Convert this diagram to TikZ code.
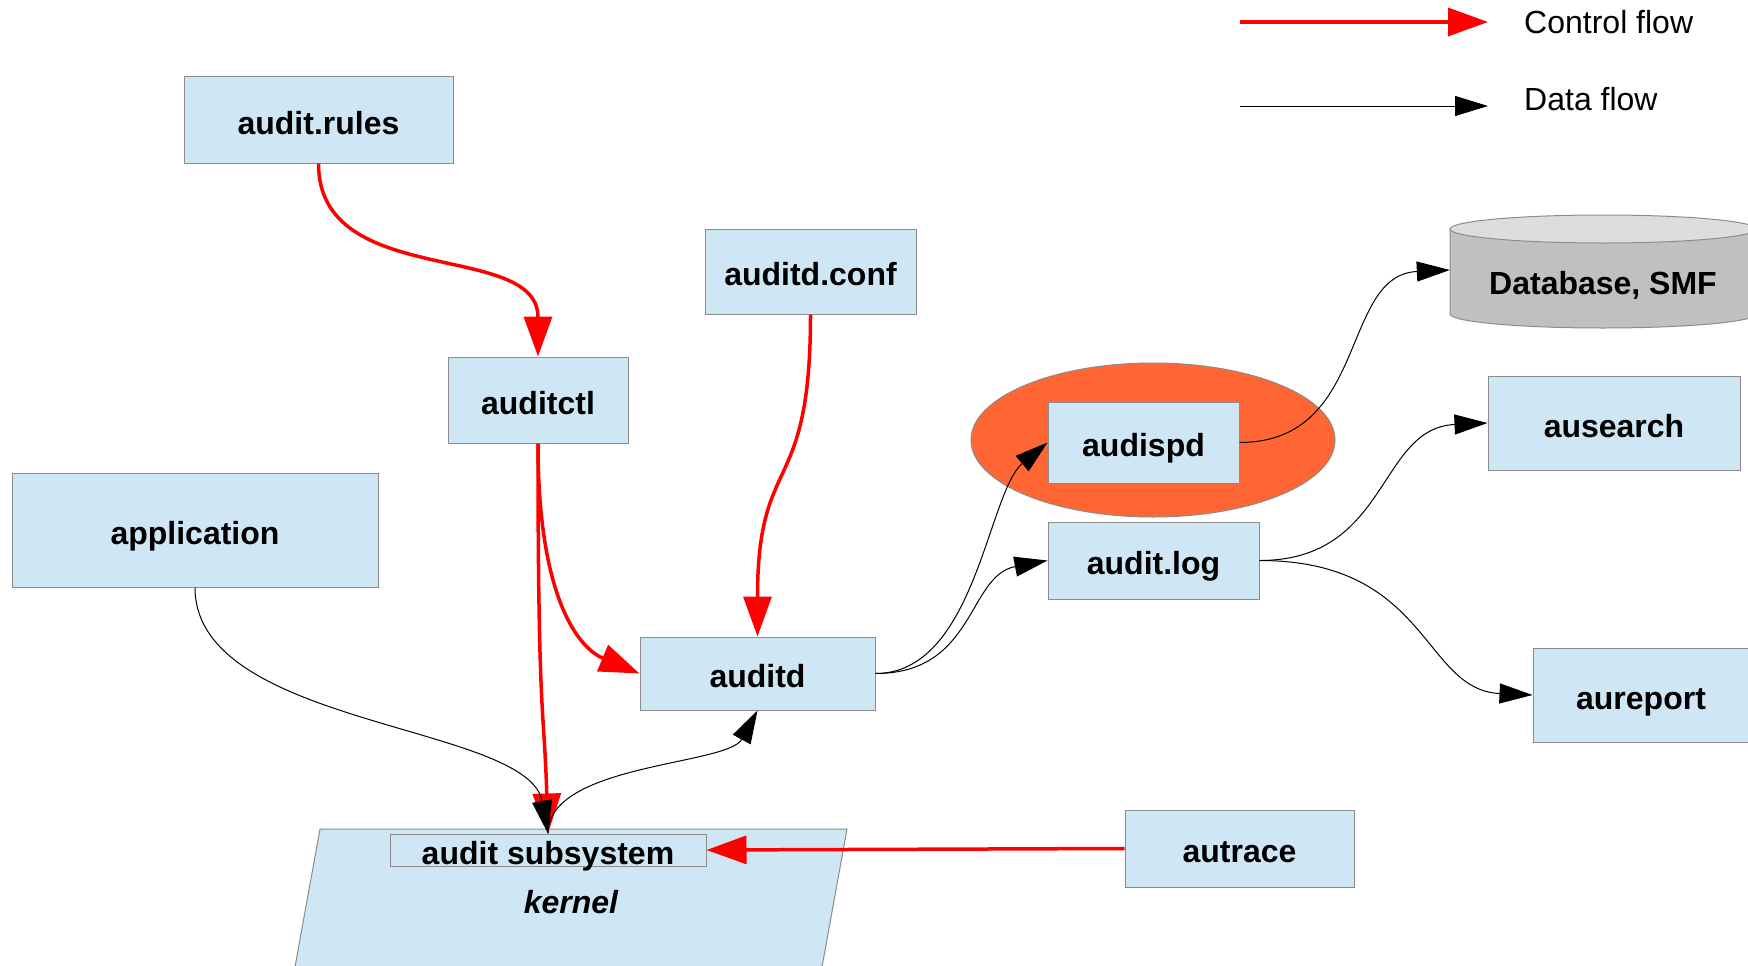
\documentclass[tikz,border=0pt]{standalone}
\usepackage{fontspec}
\setmainfont{Liberation Sans}
\usetikzlibrary{arrows.meta,shapes.geometric}
\definecolor{boxblue}{HTML}{CFE7F5}
\definecolor{boxline}{HTML}{8C8C8C}
\definecolor{halo}{HTML}{FF6633}
\definecolor{dbbody}{HTML}{C0C0C0}
\definecolor{dbtop}{HTML}{DDDDDD}
\definecolor{ctlred}{HTML}{FF0000}
\begin{document}
\begin{tikzpicture}[x=1pt,y=-1pt,
  lbl/.style={font=\fontsize{32}{38}\selectfont\bfseries, text height=28pt, text depth=0pt},
  blk/.style={lbl, draw=boxline, line width=1pt, fill=boxblue, inner sep=0pt},
  legtext/.style={font=\fontsize{32}{38}\selectfont, anchor=west, inner sep=0pt},
  ctl/.style={draw=ctlred, line width=3.5pt, -{Triangle[length=40pt,width=28pt,fill=ctlred]}},
  dat/.style={draw=black, line width=1pt, -{Triangle[length=33pt,width=20pt]}},
]
\useasboundingbox (0,0) rectangle (1748,966);
\clip (0,0) rectangle (1748,966);

% kernel parallelogram
\draw[draw=boxline, fill=boxblue, line width=1pt] (320,829) -- (847,829) -- (816,1000) -- (289,1000) -- cycle;
\node[font=\fontsize{32}{38}\selectfont\bfseries\itshape, text height=22pt, text depth=0pt] (kern) at (571,902) {kernel};
\node[blk, minimum width=316pt, minimum height=32pt] (sub) at (548,850) {audit subsystem};

% boxes
\node[blk, minimum width=269pt, minimum height=86pt] (rules) at (318.5,120) {audit.rules};
\node[blk, minimum width=180pt, minimum height=86pt] (ctlbox) at (538,400) {auditctl};
\node[blk, minimum width=211pt, minimum height=85pt] (conf) at (810.5,271.5) {auditd.conf};
\node[blk, minimum width=366pt, minimum height=114pt] (app) at (195,530) {application};
\node[blk, minimum width=235pt, minimum height=73pt] (auditd) at (757.5,673.5) {auditd};
\node[ellipse, draw=boxline, fill=halo, line width=1pt, minimum width=364pt, minimum height=154pt] (haloell) at (1153,440) {};
\node[blk, minimum width=191pt, minimum height=81pt] (disp) at (1143.5,442.5) {audispd};
\node[blk, minimum width=211pt, minimum height=77pt] (log) at (1153.5,560.5) {audit.log};
\node[blk, minimum width=252pt, minimum height=94pt] (search) at (1614,423) {ausearch};
\node[blk, minimum width=216pt, minimum height=94pt] (report) at (1641,695) {aureport};
\node[blk, minimum width=229pt, minimum height=77pt] (trace) at (1239.5,848.5) {autrace};

% database cylinder
\draw[draw=boxline, fill=dbbody, line width=1pt] (1450,229) -- (1450,314) arc[start angle=180, end angle=0, x radius=153, y radius=14] -- (1756,229) -- cycle;
\draw[draw=boxline, fill=dbtop, line width=1pt] (1603,229) ellipse[x radius=153, y radius=14];
\node[lbl, minimum width=306pt, inner sep=0pt] (db) at (1603,280) {Database, SMF};

% control flow
\draw[ctl] (rules.south) .. controls +(0,127) and +(0,-117) .. (ctlbox.north);
\draw[ctl] (ctlbox.south) .. controls +(0,280) and +(-4,-130) .. (sub.north);
\draw[ctl] (ctlbox.south) .. controls +(0,157) and +(-60,-25) .. (auditd.west);
\draw[ctl] (conf.south) .. controls +(0,186) and +(0,-187) .. (auditd.north);
\draw[ctl] (trace.west) -- (sub.east);

% data flow
\draw[dat] (app.south) .. controls +(0,140) and +(-20,-110) .. (sub.north);
\draw[dat] (sub.north) .. controls +(0,-70) and +(-30,55) .. (auditd.south);
\draw[dat] (auditd.east) .. controls +(100,0) and +(-60,50) .. (disp.west);
\draw[dat] (auditd.east) .. controls +(100,0) and +(-80,15) .. (log.west);
\draw[dat] (disp.east) .. controls +(130,0) and +(-110,5) .. ([yshift=10pt]db.west);
\draw[dat] (log.east) .. controls +(130,0) and +(-110,5) .. (search.west);
\draw[dat] (log.east) .. controls +(170,0) and +(-110,-5) .. (report.west);

% legend
\coordinate (c1) at (1240,22);
\coordinate (c2) at (1488,22);
\coordinate (d1) at (1240,106);
\coordinate (d2) at (1488,106);
\draw[ctl] (c1) -- (c2);
\draw[dat] (d1) -- (d2);
\node[legtext] (ctext) at (1524,22) {Control flow};
\node[legtext] (dtext) at (1524,99) {Data flow};
\end{tikzpicture}
\end{document}
